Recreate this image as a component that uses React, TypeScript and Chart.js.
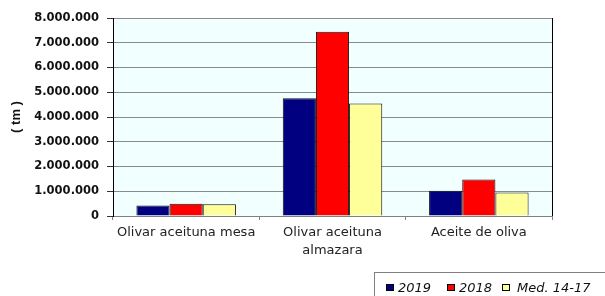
import React, { useEffect, useRef } from "react";
import { Chart, registerables } from "chart.js";

Chart.register(...registerables);

const categories: (string | string[])[] = [
  "Olivar aceituna mesa",
  ["Olivar aceituna", "almazara"],
  "Aceite de oliva",
];
const seriesLabels = ["2019", "2018", "Med. 14-17"];
const values2019 = [420000, 4760000, 1020000];
const values2018 = [500000, 7440000, 1470000];
const valuesMed = [470000, 4550000, 950000];
const yTickMax = 8000000;
const yTickStep = 1000000;
const yTitle = "( tm )";

const colors = ["#000080", "#ff0000", "#ffff99"];

function fmt(v: number): string {
  return String(Math.round(v)).replace(/\B(?=(\d{3})+(?!\d))/g, ".");
}

const bgPlugin = {
  id: "bgPlugin",
  beforeDraw(chart: any) {
    const { ctx, chartArea: a } = chart;
    ctx.save();
    ctx.fillStyle = "#f2ffff";
    ctx.fillRect(a.left, a.top, a.right - a.left, a.bottom - a.top);
    ctx.restore();
  },
  afterDraw(chart: any) {
    const { ctx, chartArea: a } = chart;
    ctx.save();
    ctx.strokeStyle = "#000000";
    ctx.lineWidth = 1;
    ctx.beginPath();
    ctx.moveTo(Math.round(a.right) + 0.5, a.top);
    ctx.lineTo(Math.round(a.right) + 0.5, a.bottom);
    ctx.stroke();

    // legend box
    ctx.strokeStyle = "#808080";
    ctx.strokeRect(374.5, 272.5, 260, 40);
    const boxX = [386, 447, 502];
    const textX = [398, 459, 517];
    ctx.font = "italic 13px 'DejaVu Sans'";
    ctx.textBaseline = "middle";
    ctx.textAlign = "left";
    chart.data.datasets.forEach((ds: any, i: number) => {
      ctx.fillStyle = ds.backgroundColor;
      ctx.fillRect(boxX[i], 284, 8, 7);
      ctx.strokeStyle = "#000000";
      ctx.strokeRect(boxX[i] + 0.5, 284.5, 7, 6);
      ctx.fillStyle = "#111111";
      ctx.fillText(ds.label, textX[i], 288.5);
    });
    ctx.restore();
  },
};

export default function App() {
  const ref = useRef<HTMLCanvasElement | null>(null);
  useEffect(() => {
    if (!ref.current) return;
    const chart = new Chart(ref.current, {
      type: "bar",
      data: {
        labels: categories,
        datasets: [
          { label: seriesLabels[0], data: values2019, backgroundColor: colors[0] },
          { label: seriesLabels[1], data: values2018, backgroundColor: colors[1] },
          { label: seriesLabels[2], data: valuesMed, backgroundColor: colors[2] },
        ].map((d) => ({
          ...d,
          borderColor: "#111111",
          borderWidth: 1,
          categoryPercentage: 0.68,
          barPercentage: 1,
        })),
      },
      options: {
        responsive: false,
        animation: false,
        devicePixelRatio: 1,
        layout: { padding: { top: 18, right: 53, left: 0, bottom: 0 } },
        plugins: { legend: { display: false }, tooltip: { enabled: false } },
        scales: {
          x: {
            grid: {
              offset: true,
              drawOnChartArea: false,
              drawTicks: true,
              tickLength: 4,
              color: "#808080",
            },
            border: { color: "#808080", width: 1 },
            ticks: {
              color: "#222222",
              font: { family: "'DejaVu Sans'", size: 13, lineHeight: 1.35 },
              padding: 4,
              maxRotation: 0,
              autoSkip: false,
            },
            afterFit(scale: any) {
              scale.height = 80;
            },
          },
          y: {
            min: 0,
            max: yTickMax,
            grid: {
              color: "#8a8a8a",
              tickLength: 6,
              tickColor: "#333333",
            },
            border: { color: "#000000", width: 1 },
            ticks: {
              stepSize: yTickStep,
              padding: 8,
              color: "#111111",
              font: { family: "'DejaVu Sans'", size: 11.5, weight: "bold" },
              callback: (v: any) => fmt(Number(v)),
            },
            title: {
              display: true,
              text: yTitle,
              color: "#111111",
              font: { family: "'Liberation Sans'", size: 13, weight: "bold" },
              padding: { top: 9, bottom: 0 },
            },
            afterFit(scale: any) {
              scale.width = 113;
            },
          },
        },
      },
      plugins: [bgPlugin],
    } as any);
    return () => chart.destroy();
  }, []);
  return (
    <div style={{ position: "absolute", left: 0, top: 0, width: 605, height: 296, background: "#fff" }}>
      <canvas ref={ref} width={605} height={296} style={{ display: "block" }} />
    </div>
  );
}
